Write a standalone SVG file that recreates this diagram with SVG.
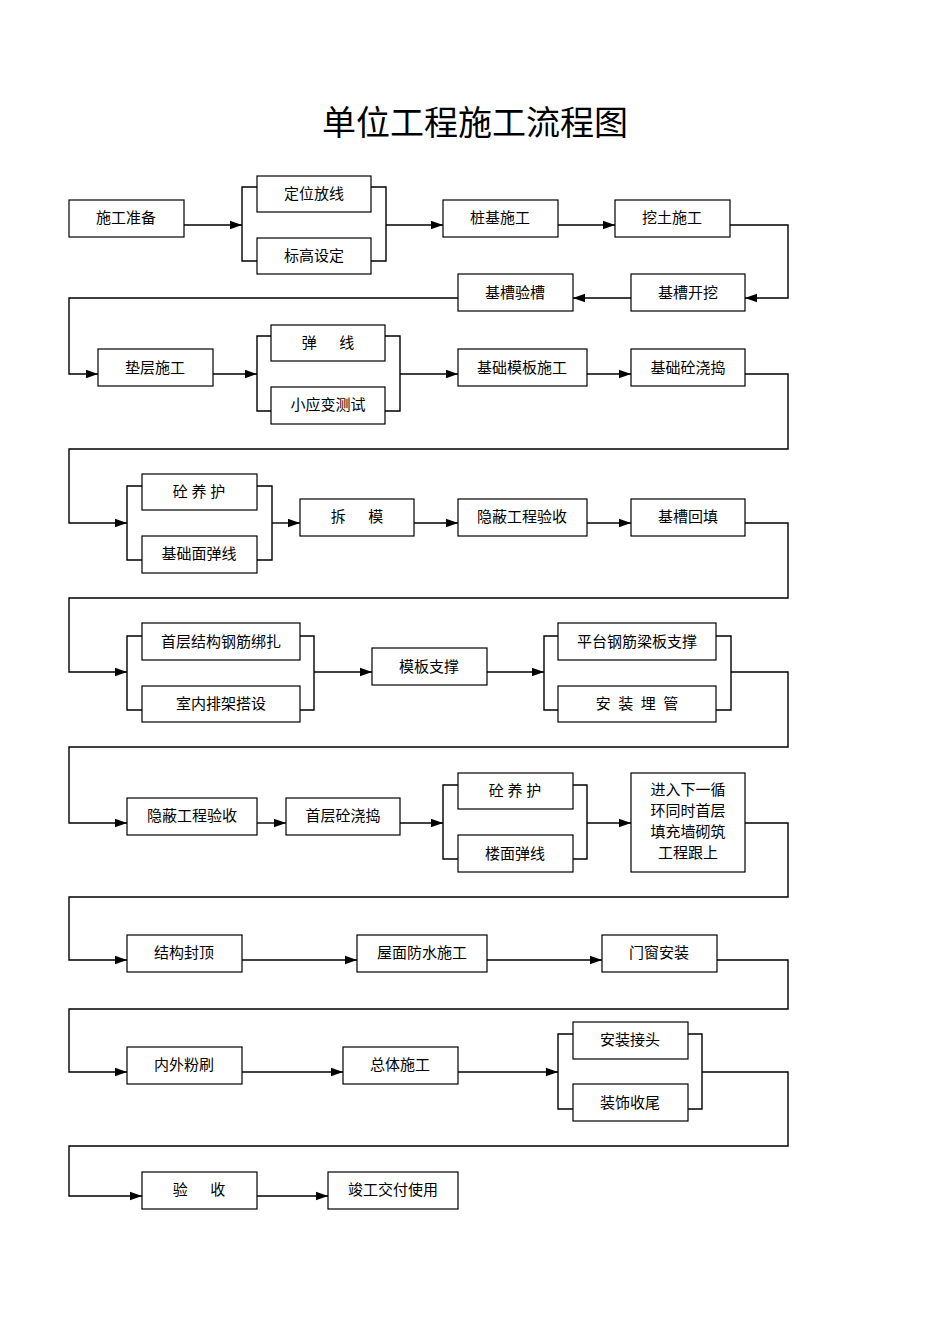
<svg xmlns="http://www.w3.org/2000/svg" width="950" height="1344" viewBox="0 0 950 1344">
<style>
.b{fill:#fff;stroke:#000;stroke-width:1.2}
.t{font-family:"Liberation Serif","Noto Sans CJK SC",serif;font-size:15px;text-anchor:middle;dominant-baseline:central}
.c{fill:none;stroke:#000;stroke-width:1.4}
</style>
<defs><marker id="a" viewBox="0 0 10 10" refX="10" refY="5" markerWidth="12" markerHeight="12" markerUnits="userSpaceOnUse" orient="auto"><path d="M0,1.5L10,5L0,8.5z" fill="#000"/></marker></defs>
<rect width="950" height="1344" fill="#fff"/>
<text x="475" y="123" font-family="'Liberation Serif','Noto Sans CJK SC',serif" font-size="34" text-anchor="middle" dominant-baseline="central">单位工程施工流程图</text>
<g id="connectors" class="c">
<path d="M184,225H242" marker-end="url(#a)"/><path d="M257,187H242V261H257M371,187H386V261H371"/><path d="M386,225H443" marker-end="url(#a)"/>
<path d="M558,225H615" marker-end="url(#a)"/><path d="M730,225H788V298H745" marker-end="url(#a)"/><path d="M631,298H573" marker-end="url(#a)"/>
<path d="M458,298H69V374H98" marker-end="url(#a)"/><path d="M213,374H257" marker-end="url(#a)"/><path d="M271,336H257V411H271M385,336H400V411H385"/><path d="M400,374H458" marker-end="url(#a)"/><path d="M587,374H631" marker-end="url(#a)"/>
<path d="M745,374H788V449H69V523H127" marker-end="url(#a)"/><path d="M142,486H127V560H142M257,486H272V560H257"/><path d="M272,523H300" marker-end="url(#a)"/><path d="M414,523H458" marker-end="url(#a)"/><path d="M587,523H631" marker-end="url(#a)"/>
<path d="M745,523H788V598H69V672H127" marker-end="url(#a)"/><path d="M142,636H127V710H142M300,636H314V710H300"/><path d="M314,672H372" marker-end="url(#a)"/><path d="M487,672H544" marker-end="url(#a)"/><path d="M558,636H544V710H558M716,636H731V710H716"/>
<path d="M731,672H788V747H69V823H127" marker-end="url(#a)"/><path d="M257,823H286" marker-end="url(#a)"/><path d="M400,823H443" marker-end="url(#a)"/><path d="M458,785H443V859H458M573,785H587V859H573"/><path d="M587,823H631" marker-end="url(#a)"/>
<path d="M745,823H788V897H69V960H127" marker-end="url(#a)"/><path d="M242,960H357" marker-end="url(#a)"/><path d="M487,960H602" marker-end="url(#a)"/>
<path d="M717,960H788V1009H69V1072H127" marker-end="url(#a)"/><path d="M242,1072H343" marker-end="url(#a)"/><path d="M458,1072H558" marker-end="url(#a)"/><path d="M573,1034H558V1109H573M688,1034H702V1109H688"/>
<path d="M702,1072H788V1146H69V1196H142" marker-end="url(#a)"/><path d="M257,1196H328" marker-end="url(#a)"/>
</g>
<g id="n1"><rect class="b" x="69" y="200" width="115" height="37"/><text class="t" x="126" y="218">施工准备</text></g>
<g id="n2"><rect class="b" x="257" y="176" width="114" height="36"/><text class="t" x="314" y="194">定位放线</text></g>
<g id="n3"><rect class="b" x="257" y="238" width="114" height="36"/><text class="t" x="314" y="256">标高设定</text></g>
<g id="n4"><rect class="b" x="443" y="200" width="115" height="37"/><text class="t" x="500" y="218">桩基施工</text></g>
<g id="n5"><rect class="b" x="615" y="200" width="115" height="37"/><text class="t" x="672" y="218">挖土施工</text></g>
<g id="n6"><rect class="b" x="631" y="274" width="114" height="37"/><text class="t" x="688" y="293">基槽开挖</text></g>
<g id="n7"><rect class="b" x="458" y="274" width="115" height="37"/><text class="t" x="515" y="293">基槽验槽</text></g>
<g id="n8"><rect class="b" x="98" y="349" width="115" height="37"/><text class="t" x="155" y="368">垫层施工</text></g>
<g id="n9"><rect class="b" x="271" y="325" width="114" height="36"/><text class="t" x="328" y="343" xml:space="preserve">弹      线</text></g>
<g id="n10"><rect class="b" x="271" y="387" width="114" height="37"/><text class="t" x="328" y="405">小应变测试</text></g>
<g id="n11"><rect class="b" x="458" y="349" width="129" height="37"/><text class="t" x="522" y="368">基础模板施工</text></g>
<g id="n12"><rect class="b" x="631" y="349" width="114" height="37"/><text class="t" x="688" y="368">基础砼浇捣</text></g>
<g id="n13"><rect class="b" x="142" y="474" width="115" height="36"/><text class="t" x="199" y="492" xml:space="preserve">砼 养 护</text></g>
<g id="n14"><rect class="b" x="142" y="536" width="115" height="37"/><text class="t" x="199" y="554">基础面弹线</text></g>
<g id="n15"><rect class="b" x="300" y="499" width="114" height="37"/><text class="t" x="357" y="517" xml:space="preserve">拆      模</text></g>
<g id="n16"><rect class="b" x="458" y="499" width="129" height="37"/><text class="t" x="522" y="517">隐蔽工程验收</text></g>
<g id="n17"><rect class="b" x="631" y="499" width="114" height="37"/><text class="t" x="688" y="517">基槽回填</text></g>
<g id="n18"><rect class="b" x="142" y="623" width="158" height="37"/><text class="t" x="221" y="642">首层结构钢筋绑扎</text></g>
<g id="n19"><rect class="b" x="142" y="686" width="158" height="36"/><text class="t" x="221" y="704">室内排架搭设</text></g>
<g id="n20"><rect class="b" x="372" y="648" width="115" height="37"/><text class="t" x="429" y="667">模板支撑</text></g>
<g id="n21"><rect class="b" x="558" y="623" width="158" height="37"/><text class="t" x="637" y="642">平台钢筋梁板支撑</text></g>
<g id="n22"><rect class="b" x="558" y="686" width="158" height="36"/><text class="t" x="637" y="704" xml:space="preserve">安  装  埋  管</text></g>
<g id="n23"><rect class="b" x="127" y="798" width="130" height="37"/><text class="t" x="192" y="816">隐蔽工程验收</text></g>
<g id="n24"><rect class="b" x="286" y="798" width="114" height="37"/><text class="t" x="343" y="816">首层砼浇捣</text></g>
<g id="n25"><rect class="b" x="458" y="773" width="115" height="36"/><text class="t" x="515" y="791" xml:space="preserve">砼 养 护</text></g>
<g id="n26"><rect class="b" x="458" y="835" width="115" height="37"/><text class="t" x="515" y="854">楼面弹线</text></g>
<g id="n27"><rect class="b" x="631" y="773" width="114" height="99"/><text class="t" x="688" y="790">进入下一循</text><text class="t" x="688" y="811">环同时首层</text><text class="t" x="688" y="832">填充墙砌筑</text><text class="t" x="688" y="853">工程跟上</text></g>
<g id="n28"><rect class="b" x="127" y="935" width="115" height="37"/><text class="t" x="184" y="953">结构封顶</text></g>
<g id="n29"><rect class="b" x="357" y="935" width="130" height="37"/><text class="t" x="422" y="953">屋面防水施工</text></g>
<g id="n30"><rect class="b" x="602" y="935" width="115" height="37"/><text class="t" x="659" y="953">门窗安装</text></g>
<g id="n31"><rect class="b" x="127" y="1047" width="115" height="37"/><text class="t" x="184" y="1065">内外粉刷</text></g>
<g id="n32"><rect class="b" x="343" y="1047" width="115" height="37"/><text class="t" x="400" y="1065">总体施工</text></g>
<g id="n33"><rect class="b" x="573" y="1022" width="115" height="37"/><text class="t" x="630" y="1040">安装接头</text></g>
<g id="n34"><rect class="b" x="573" y="1084" width="115" height="37"/><text class="t" x="630" y="1103">装饰收尾</text></g>
<g id="n35"><rect class="b" x="142" y="1172" width="115" height="37"/><text class="t" x="199" y="1190" xml:space="preserve">验      收</text></g>
<g id="n36"><rect class="b" x="328" y="1172" width="130" height="37"/><text class="t" x="393" y="1190">竣工交付使用</text></g>
</svg>
